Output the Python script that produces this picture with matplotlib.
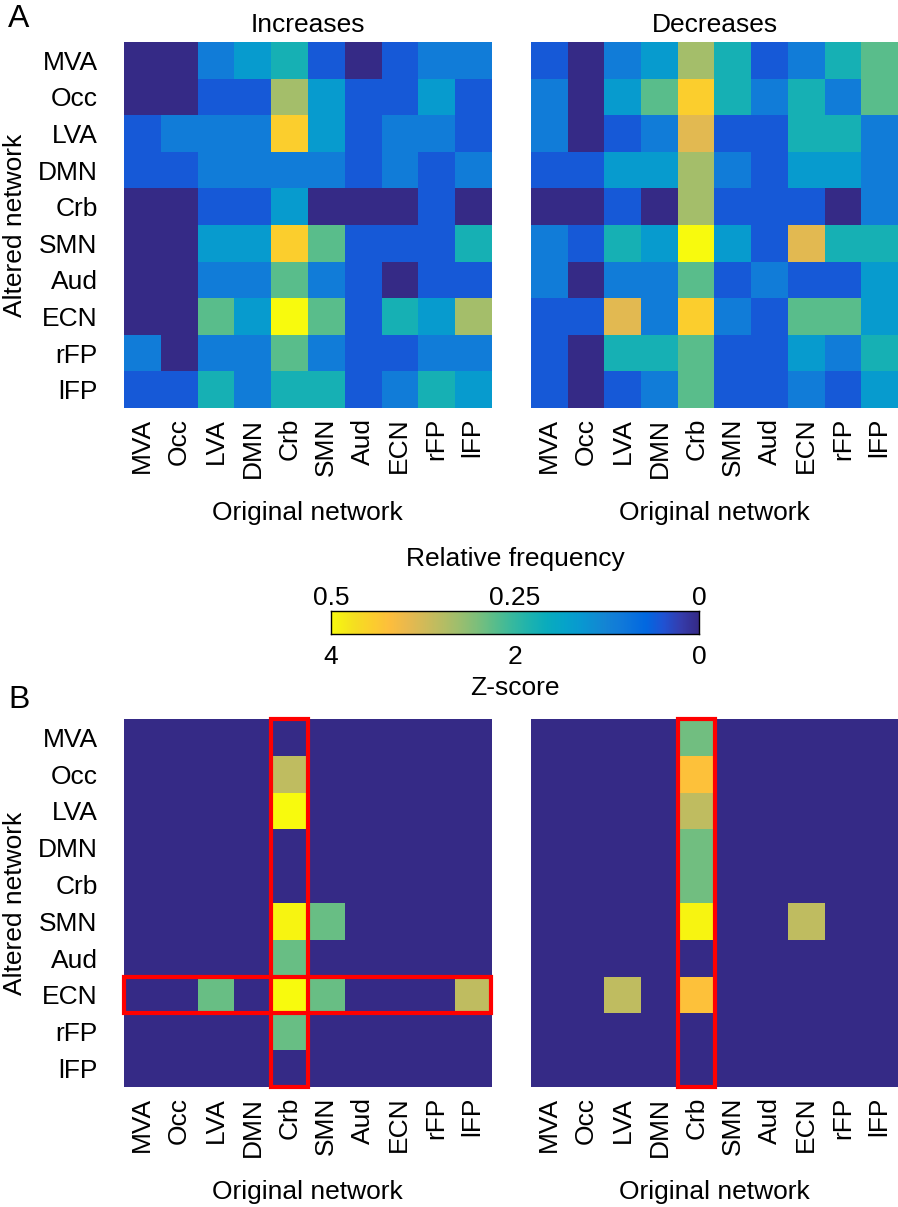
import numpy as np
import matplotlib
matplotlib.use('Agg')
import matplotlib.pyplot as plt
from matplotlib.colors import LinearSegmentedColormap
from matplotlib.patches import Rectangle

networks = ['MVA', 'Occ', 'LVA', 'DMN', 'Crb', 'SMN', 'Aud', 'ECN', 'rFP', 'lFP']

# relative frequency of altered -> original network (rows = altered, cols = original)
increases = np.array([
    [0.000, 0.000, 0.111, 0.167, 0.222, 0.056, 0.000, 0.056, 0.111, 0.111],
    [0.000, 0.000, 0.056, 0.056, 0.333, 0.167, 0.056, 0.056, 0.167, 0.056],
    [0.056, 0.111, 0.111, 0.111, 0.444, 0.167, 0.056, 0.111, 0.111, 0.056],
    [0.056, 0.056, 0.111, 0.111, 0.111, 0.111, 0.056, 0.111, 0.056, 0.111],
    [0.000, 0.000, 0.056, 0.056, 0.167, 0.000, 0.000, 0.000, 0.056, 0.000],
    [0.000, 0.000, 0.167, 0.167, 0.444, 0.278, 0.056, 0.056, 0.056, 0.222],
    [0.000, 0.000, 0.111, 0.111, 0.278, 0.111, 0.056, 0.000, 0.056, 0.056],
    [0.000, 0.000, 0.278, 0.167, 0.500, 0.278, 0.056, 0.222, 0.167, 0.333],
    [0.111, 0.000, 0.111, 0.111, 0.278, 0.111, 0.056, 0.056, 0.111, 0.111],
    [0.056, 0.056, 0.222, 0.111, 0.222, 0.222, 0.056, 0.111, 0.222, 0.167],
])

decreases = np.array([
    [0.056, 0.000, 0.111, 0.167, 0.333, 0.222, 0.056, 0.111, 0.222, 0.278],
    [0.111, 0.000, 0.167, 0.278, 0.444, 0.222, 0.111, 0.222, 0.111, 0.278],
    [0.111, 0.000, 0.056, 0.111, 0.389, 0.056, 0.056, 0.222, 0.222, 0.111],
    [0.056, 0.056, 0.167, 0.167, 0.333, 0.111, 0.056, 0.167, 0.167, 0.111],
    [0.000, 0.000, 0.056, 0.000, 0.333, 0.056, 0.056, 0.056, 0.000, 0.111],
    [0.111, 0.056, 0.222, 0.167, 0.500, 0.167, 0.056, 0.389, 0.222, 0.222],
    [0.111, 0.000, 0.111, 0.111, 0.278, 0.056, 0.111, 0.056, 0.056, 0.167],
    [0.056, 0.056, 0.389, 0.111, 0.444, 0.111, 0.056, 0.278, 0.278, 0.167],
    [0.056, 0.000, 0.222, 0.222, 0.278, 0.056, 0.056, 0.167, 0.111, 0.222],
    [0.056, 0.000, 0.056, 0.111, 0.278, 0.056, 0.056, 0.111, 0.056, 0.167],
])

# significant z-scores (0 = not significant)
z_increases = np.array([
    [0, 0, 0.0, 0, 0.0, 0.0, 0, 0, 0, 0.0],
    [0, 0, 0.0, 0, 2.85, 0.0, 0, 0, 0, 0.0],
    [0, 0, 0.0, 0, 4.0, 0.0, 0, 0, 0, 0.0],
    [0, 0, 0.0, 0, 0.0, 0.0, 0, 0, 0, 0.0],
    [0, 0, 0.0, 0, 0.0, 0.0, 0, 0, 0, 0.0],
    [0, 0, 0.0, 0, 3.95, 2.3, 0, 0, 0, 0.0],
    [0, 0, 0.0, 0, 2.3, 0.0, 0, 0, 0, 0.0],
    [0, 0, 2.3, 0, 4.0, 2.3, 0, 0, 0, 2.85],
    [0, 0, 0.0, 0, 2.3, 0.0, 0, 0, 0, 0.0],
    [0, 0, 0.0, 0, 0.0, 0.0, 0, 0, 0, 0.0],
])

z_decreases = np.array([
    [0, 0, 0.0, 0, 2.35, 0, 0, 0.0, 0, 0],
    [0, 0, 0.0, 0, 3.4, 0, 0, 0.0, 0, 0],
    [0, 0, 0.0, 0, 2.85, 0, 0, 0.0, 0, 0],
    [0, 0, 0.0, 0, 2.35, 0, 0, 0.0, 0, 0],
    [0, 0, 0.0, 0, 2.35, 0, 0, 0.0, 0, 0],
    [0, 0, 0.0, 0, 3.95, 0, 0, 2.85, 0, 0],
    [0, 0, 0.0, 0, 0.0, 0, 0, 0.0, 0, 0],
    [0, 0, 2.85, 0, 3.4, 0, 0, 0.0, 0, 0],
    [0, 0, 0.0, 0, 0.0, 0, 0, 0.0, 0, 0],
    [0, 0, 0.0, 0, 0.0, 0, 0, 0.0, 0, 0],
])

# parula, sampled from the 64-entry table (index, rgb)
parula_anchors = [
    (0, [0.2081, 0.1663, 0.5292]), (3, [0.2081, 0.2386, 0.6771]), (6, [0.1253, 0.3242, 0.8303]),
    (9, [0.0060, 0.4086, 0.8828]), (13, [0.0629, 0.4737, 0.8554]), (16, [0.0793, 0.5200, 0.8312]),
    (20, [0.0343, 0.5966, 0.8199]), (23, [0.0231, 0.6418, 0.7913]), (26, [0.0384, 0.6743, 0.7436]),
    (29, [0.1133, 0.7015, 0.6859]), (32, [0.2178, 0.7250, 0.6193]), (35, [0.3482, 0.7424, 0.5473]),
    (38, [0.4871, 0.7491, 0.4840]), (41, [0.6099, 0.7473, 0.4337]), (44, [0.7184, 0.7411, 0.3905]),
    (47, [0.8185, 0.7327, 0.3498]), (50, [0.9139, 0.7258, 0.3063]), (53, [0.9938, 0.7455, 0.2403]),
    (56, [0.9880, 0.8066, 0.1794]), (59, [0.9626, 0.8705, 0.1309]), (62, [0.9661, 0.9514, 0.0755]),
    (63, [0.9763, 0.9831, 0.0538]),
]
parula = LinearSegmentedColormap.from_list('parula', [(i / 63, c) for i, c in parula_anchors])

plt.rcParams['font.family'] = ['Liberation Sans', 'DejaVu Sans']
FS = 19

W, H = 898, 1207


def px_axes(fig, left, top, right, bottom):
    return fig.add_axes([left / W, 1 - bottom / H, (right - left) / W, (bottom - top) / H])


def heatmap(ax, data, vmax, show_y):
    ax.imshow(data, cmap=parula, vmin=0, vmax=vmax, aspect='auto', interpolation='nearest')
    ax.set_xticks(range(len(networks)))
    ax.set_xticklabels(networks, rotation=90, fontsize=FS)
    ax.set_yticks(range(len(networks)))
    if show_y:
        ax.set_yticklabels(networks, fontsize=FS)
    else:
        ax.set_yticklabels([])
    ax.tick_params(axis='x', length=0, pad=7)
    ax.tick_params(axis='y', length=0, pad=19)
    for s in ax.spines.values():
        s.set_visible(False)
    ax.set_xlabel('Original network', fontsize=FS, labelpad=17)


fig = plt.figure(figsize=(W / 100, H / 100), dpi=100)

ax_inc = px_axes(fig, 124, 42, 491, 408)
ax_dec = px_axes(fig, 531, 42, 898, 408)
heatmap(ax_inc, increases, 0.5, True)
heatmap(ax_dec, decreases, 0.5, False)
ax_inc.set_title('Increases', fontsize=FS, pad=7)
ax_dec.set_title('Decreases', fontsize=FS, pad=7)

ax_zinc = px_axes(fig, 124, 719, 491, 1087)
ax_zdec = px_axes(fig, 531, 719, 898, 1087)
heatmap(ax_zinc, z_increases, 4, True)
heatmap(ax_zdec, z_decreases, 4, False)

# highlight boxes
crb = networks.index('Crb')
ecn = networks.index('ECN')
for ax in (ax_zinc, ax_zdec):
    ax.add_patch(Rectangle((crb - 0.5, -0.5), 1, 10, fill=False, ec='red', lw=3, clip_on=False))
ax_zinc.add_patch(Rectangle((-0.5, ecn - 0.5), 10, 1, fill=False, ec='red', lw=3, clip_on=False))

# colorbar
cax = px_axes(fig, 331, 611, 699, 634)
grad = np.linspace(0, 0.5, 256)[None, :]
cax.imshow(grad, cmap=parula, vmin=0, vmax=0.5, aspect='auto', extent=[0, 0.5, 0, 1])
cax.set_xlim(0.5, 0)
cax.set_yticks([])
cax.xaxis.tick_top()
cax.set_xticks([0.5, 0.25, 0])
cax.set_xticklabels(['0.5', '0.25', '0'], fontsize=FS)
cax.tick_params(axis='x', length=0, pad=1)
cax.xaxis.set_label_position('top')
cax.set_xlabel('Relative frequency', fontsize=FS, labelpad=14)
sec = cax.secondary_xaxis('bottom', functions=(lambda x: x * 8, lambda z: z / 8))
sec.set_xticks([4, 2, 0])
sec.set_xticklabels(['4', '2', '0'], fontsize=FS)
sec.tick_params(length=0, pad=8)
sec.set_xlabel('Z-score', fontsize=FS, labelpad=5)
for s in cax.spines.values():
    s.set_linewidth(1)
sec.spines['bottom'].set_visible(False)

# axis labels and panel letters
fig.text(15 / W, 1 - 225 / H, 'Altered network', rotation=90, ha='center', va='center', fontsize=FS)
fig.text(15 / W, 1 - 903 / H, 'Altered network', rotation=90, ha='center', va='center', fontsize=FS)
fig.text(8 / W, 1 - 4 / H, 'A', ha='left', va='top', fontsize=23)
fig.text(8 / W, 1 - 685 / H, 'B', ha='left', va='top', fontsize=23)

fig.savefig('out.png', dpi=100)
